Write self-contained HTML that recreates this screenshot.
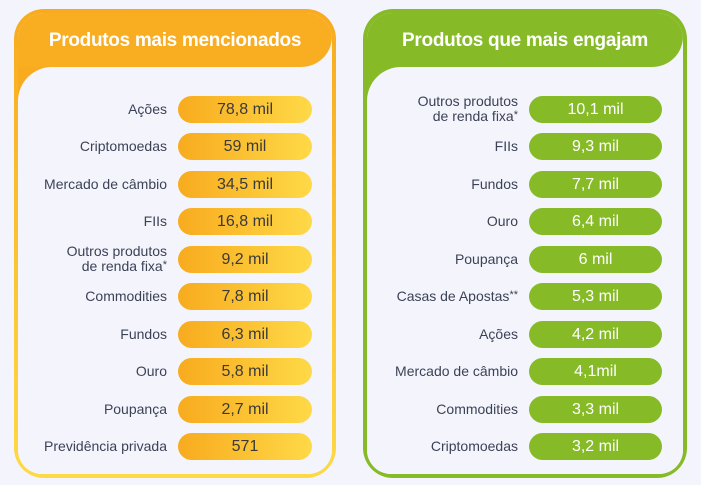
<!DOCTYPE html>
<html><head><meta charset="utf-8">
<style>
body{margin:0;width:701px;height:485px;background:#f4f5fc;font-family:"Liberation Sans",sans-serif;position:relative;overflow:hidden}
.card{position:absolute;top:9px;height:469px;box-sizing:border-box;border-radius:30px;padding:4px}
.inner{position:relative;width:100%;height:100%;background:#f4f5fc;border-radius:26px 26px 24px 24px;overflow:hidden}
.corner{position:absolute;left:0;top:50px;width:40px;height:40px}
.head{position:absolute;left:0;top:0;right:0;height:54px;border-radius:26px 26px 34px 0;color:#fff;font-weight:bold;font-size:19px;text-align:center;line-height:56px;letter-spacing:-0.3px}
.body{position:absolute;left:0;right:0;top:54px;bottom:0;background:#f4f5fc;border-top-left-radius:34px}
.row{position:absolute;left:0;right:0;height:28px}
.lab{position:absolute;right:0;text-align:right;font-size:14px;color:#3c4256;line-height:15px;white-space:nowrap}
.pill{position:absolute;height:27px;border-radius:14px;text-align:center;font-size:16px;line-height:27px}
</style></head><body>
<div class="card" id="left" style="left:14px;width:322px;background:linear-gradient(#f8ab1e,#fdd946)">
 <div class="inner"><div class="corner" style="background:#f8ab1e"></div>
 <div class="head" style="background:#f9ad21">Produtos mais mencionados</div>
 <div class="body" id="lbody"></div></div>
</div>
<div class="card" id="right" style="left:363px;width:324px;background:#86bb27">
 <div class="inner"><div class="corner" style="background:#86bb27"></div>
 <div class="head" style="background:#86bb27">Produtos que mais engajam</div>
 <div class="body" id="rbody"></div></div>
</div>
<script>
const leftCategories=["Ações","Criptomoedas","Mercado de câmbio","FIIs","Outros produtos<br>de renda fixa<sup>*</sup>","Commodities","Fundos","Ouro","Poupança","Previdência privada"];
const leftValues=["78,8 mil","59 mil","34,5 mil","16,8 mil","9,2 mil","7,8 mil","6,3 mil","5,8 mil","2,7 mil","571"];
const rightCategories=["Outros produtos<br>de renda fixa<sup>*</sup>","FIIs","Fundos","Ouro","Poupança","Casas de Apostas<sup>**</sup>","Ações","Mercado de câmbio","Commodities","Criptomoedas"];
const rightValues=["10,1 mil","9,3 mil","7,7 mil","6,4 mil","6 mil","5,3 mil","4,2 mil","4,1mil","3,3 mil","3,2 mil"];
function build(id,cats,vals,labRight,pillLeft,pillW,bg,col,prefix){
 const body=document.getElementById(id);
 cats.forEach((c,i)=>{
  const cy=110+i*37.45-9-4-54;
  const row=document.createElement('div');row.className='row';row.style.top=(cy-14)+'px';
  
  
  const two=c.indexOf('<br>')>=0;
  const l=document.createElement('div');l.className='lab';l.innerHTML=c.replace(/<sup>/,'<sup style="font-size:11px;vertical-align:3px;line-height:0">');
  l.style.right=labRight+'px';l.style.top=(two?-2:6)+'px';
  
  
  const p=document.createElement('div');p.className='pill';p.textContent=vals[i];
  p.style.left=pillLeft+'px';p.style.width=pillW+'px';p.style.background=bg;p.style.color=col;
  
  
  row.appendChild(l);row.appendChild(p);body.appendChild(row);
 });
}
build('lbody',leftCategories,leftValues,165,160,134,'linear-gradient(90deg,#f8ab1e,#fed947)','#3a3a3a','mentioned');
build('rbody',rightCategories,rightValues,165,162,133,'#86bb27','#fff','engaging');
</script>
</body></html>
